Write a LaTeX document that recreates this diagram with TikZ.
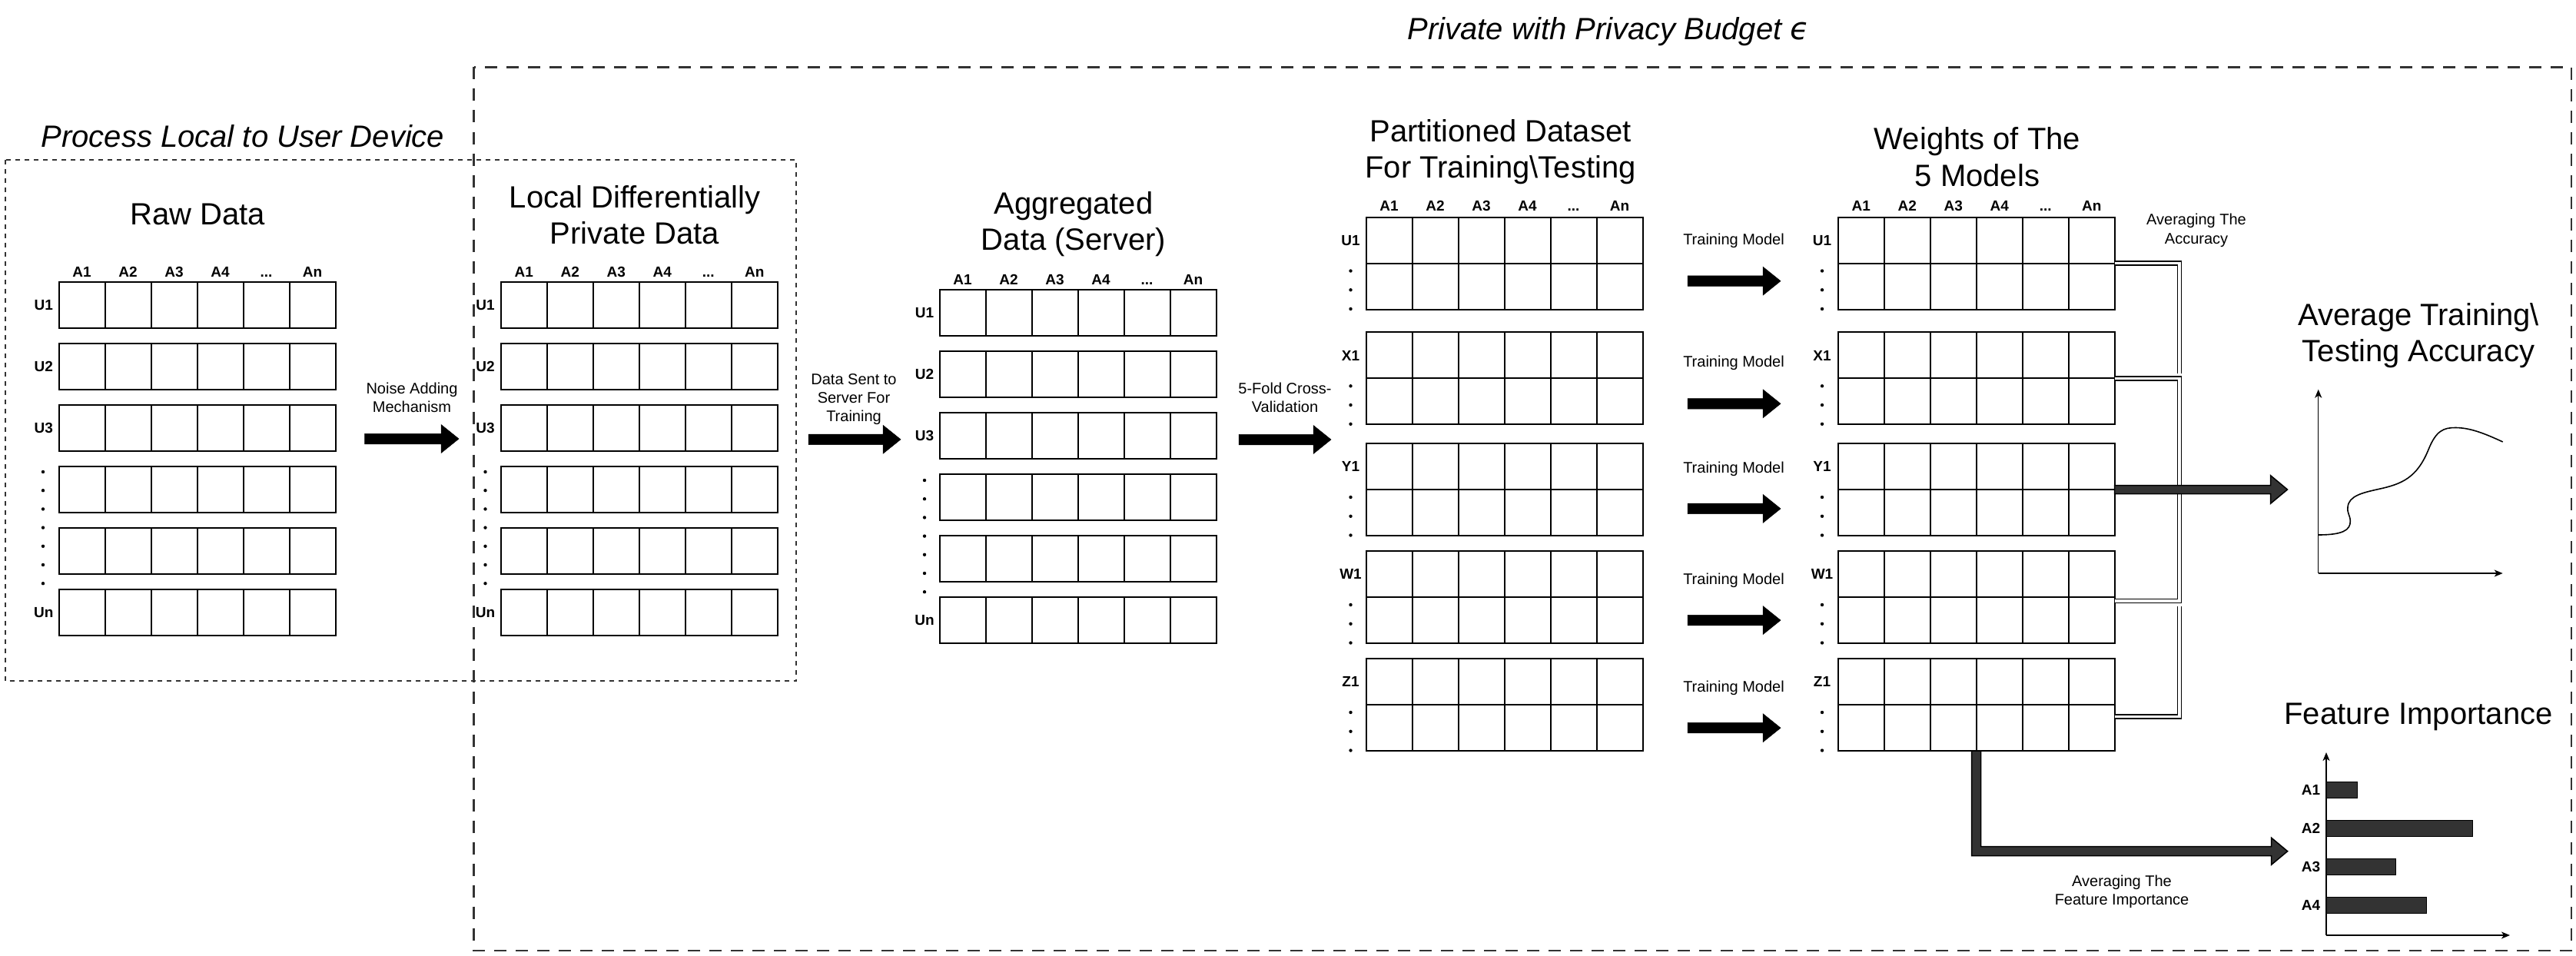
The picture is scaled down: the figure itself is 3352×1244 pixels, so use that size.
\documentclass[tikz,border=0pt]{standalone}
\usepackage{fontspec}
\setmainfont{Liberation Sans}
\newfontfamily\epsfont{DejaVu Sans}
\usetikzlibrary{arrows.meta,calc}
\definecolor{darkfill}{HTML}{333333}

\tikzset{
  tbl/.style={draw=black, line width=2pt, minimum width=360pt, inner sep=0pt, outer sep=0pt},
  tline/.style={draw=black, line width=2pt},
  hdr/.style={font=\bfseries\fontsize{19}{22}\selectfont, anchor=base, inner sep=0pt},
  ttl/.style={font=\fontsize{40}{47}\selectfont, anchor=base, inner sep=0pt},
  ittl/.style={font=\itshape\fontsize{40}{47}\selectfont, anchor=base, inner sep=0pt},
  lbl/.style={font=\fontsize{20}{24}\selectfont, anchor=base, inner sep=0pt},
  dline/.style={draw=black, line width=1.7pt, double=white, double distance=3.2pt, line join=miter},
  blackarrow/.style={fill=black, draw=black, line width=0.5pt},
  darkarrow/.style={fill=darkfill, draw=black, line width=1.5pt, line join=miter},
  axisline/.style={line width=1.5pt, -{Stealth[length=11pt,width=9pt,inset=3pt]}},
  barbox/.style={fill=darkfill, draw=black, line width=1pt},
  dotmark/.style={fill=black},
  innerbox/.style={draw=black!80, line width=2pt, dash pattern=on 6pt off 6pt},
  outerbox/.style={draw=black!80, line width=2.5pt, dash pattern=on 16pt off 12pt},
}

\newcommand{\onerow}[3]{%
  \node[tbl, minimum height=60pt, anchor=north west] (#1) at (#2,#3) {};
  \foreach \k in {1,...,5}{\draw[tline] ($(#1.north west)+(60*\k,0)$) -- ($(#1.south west)+(60*\k,0)$);}
}
\newcommand{\tworow}[3]{%
  \node[tbl, minimum height=120pt, anchor=north west] (#1) at (#2,#3) {};
  \foreach \k in {1,...,5}{\draw[tline] ($(#1.north west)+(60*\k,0)$) -- ($(#1.south west)+(60*\k,0)$);}
  \draw[tline] (#1.west) -- (#1.east);
}
\newcommand{\heads}[3]{%
  \node[hdr] (#1h1) at (#2+30,#3) {A1};
  \node[hdr] (#1h2) at (#2+90,#3) {A2};
  \node[hdr] (#1h3) at (#2+150,#3) {A3};
  \node[hdr] (#1h4) at (#2+210,#3) {A4};
  \node[hdr] (#1h5) at (#2+270,#3) {...};
  \node[hdr] (#1h6) at (#2+330,#3) {An};
}
\newcommand{\dotcol}[4]{\foreach \k in {0,...,#4}{\fill[dotmark] (#1,#2+#3*\k) circle (2.2);}}
\newcommand{\fatarr}[6]{%
  \filldraw[#1] ($(#2)+(0,-#4)$) -- ($(#3)+(-#5,-#4)$) -- ($(#3)+(-#5,-#6)$) -- (#3)
    -- ($(#3)+(-#5,#6)$) -- ($(#3)+(-#5,#4)$) -- ($(#2)+(0,#4)$) -- cycle;
}

\begin{document}
\begin{tikzpicture}[x=1pt,y=-1pt]
\useasboundingbox[fill=white] (0,0) rectangle (3352,1244);

% dashed regions
\draw[outerbox] (616.5,87.5) rectangle (3346,1237);
\draw[innerbox] (7,207.5) rectangle (1036,886);

% titles
\node[ittl] (tlocal) at (316,191) {Process Local to User Device};
\node[ittl] (tpriv) at (2093,52) {Private with Privacy Budget {\epsfont\itshape ϵ}};
\node[ttl] (traw) at (257,292.7) {Raw Data};
\node[ttl] (tldp1) at (826,270) {Local Differentially};
\node[ttl] (tldp2) at (826,317) {Private Data};
\node[ttl] (tagg1) at (1397,278.6) {Aggregated};
\node[ttl] (tagg2) at (1397,325.5) {Data (Server)};
\node[ttl] (tpar1) at (1952.5,184.5) {Partitioned Dataset};
\node[ttl] (tpar2) at (1952.5,231.6) {For Training\textbackslash Testing};
\node[ttl] (twt1) at (2573,194) {Weights of The};
\node[ttl] (twt2) at (2573,242) {5 Models};
\node[ttl] (tavg1) at (3147,423.5) {Average Training\textbackslash};
\node[ttl] (tavg2) at (3147,470.6) {Testing Accuracy};
\node[ttl] (tfi) at (3147,942) {Feature Importance};

% raw data table
\heads{raw}{76.5}{360.6}
\onerow{raw1}{76.5}{367}
\onerow{raw2}{76.5}{447}
\onerow{raw3}{76.5}{527}
\onerow{raw4}{76.5}{607}
\onerow{raw5}{76.5}{687}
\onerow{raw6}{76.5}{767}
\node[hdr] (rawl1) at (56.8,403.8) {U1};
\node[hdr] (rawl2) at (56.8,483.8) {U2};
\node[hdr] (rawl3) at (56.8,563.8) {U3};
\node[hdr] (rawl6) at (56.8,803.8) {Un};
\dotcol{56}{614}{24.2}{6}

% local differentially private table
\heads{ldp}{651.7}{360.6}
\onerow{ldp1}{651.7}{367}
\onerow{ldp2}{651.7}{447}
\onerow{ldp3}{651.7}{527}
\onerow{ldp4}{651.7}{607}
\onerow{ldp5}{651.7}{687}
\onerow{ldp6}{651.7}{767}
\node[hdr] (ldpl1) at (631.5,403.8) {U1};
\node[hdr] (ldpl2) at (631.5,483.8) {U2};
\node[hdr] (ldpl3) at (631.5,563.8) {U3};
\node[hdr] (ldpl6) at (631.5,803.8) {Un};
\dotcol{631.5}{614}{24.2}{6}

% aggregated table
\heads{agg}{1222.5}{370.6}
\onerow{agg1}{1222.5}{377}
\onerow{agg2}{1222.5}{457}
\onerow{agg3}{1222.5}{537}
\onerow{agg4}{1222.5}{617}
\onerow{agg5}{1222.5}{697}
\onerow{agg6}{1222.5}{777}
\node[hdr] (aggl1) at (1203,413.8) {U1};
\node[hdr] (aggl2) at (1203,493.8) {U2};
\node[hdr] (aggl3) at (1203,573.8) {U3};
\node[hdr] (aggl6) at (1203,813.8) {Un};
\dotcol{1203}{625}{24.2}{6}

% partitioned dataset
\heads{par}{1777.5}{274.8}
\tworow{p1}{1777.5}{282.5}
\tworow{p2}{1777.5}{432.3}
\tworow{p3}{1777.5}{577}
\tworow{p4}{1777.5}{717}
\tworow{p5}{1777.5}{857}
\node[hdr] (parl1) at (1757.5,319.3) {U1};
\node[hdr] (parl2) at (1757.5,469.1) {X1};
\node[hdr] (parl3) at (1757.5,613.8) {Y1};
\node[hdr] (parl4) at (1757.5,753.8) {W1};
\node[hdr] (parl5) at (1757.5,893.8) {Z1};
\dotcol{1757.5}{352.5}{24.75}{2}
\dotcol{1757.5}{502.3}{24.75}{2}
\dotcol{1757.5}{647}{24.75}{2}
\dotcol{1757.5}{787}{24.75}{2}
\dotcol{1757.5}{927}{24.75}{2}

% weights of the 5 models
\heads{wt}{2391.7}{274.8}
\tworow{w1}{2391.7}{282.5}
\tworow{w2}{2391.7}{432.3}
\tworow{w3}{2391.7}{577}
\tworow{w4}{2391.7}{717}
\tworow{w5}{2391.7}{857}
\node[hdr] (wtl1) at (2371,319.3) {U1};
\node[hdr] (wtl2) at (2371,469.1) {X1};
\node[hdr] (wtl3) at (2371,613.8) {Y1};
\node[hdr] (wtl4) at (2371,753.8) {W1};
\node[hdr] (wtl5) at (2371,893.8) {Z1};
\dotcol{2371}{352.5}{24.75}{2}
\dotcol{2371}{502.3}{24.75}{2}
\dotcol{2371}{647}{24.75}{2}
\dotcol{2371}{787}{24.75}{2}
\dotcol{2371}{927}{24.75}{2}

% black process arrows and their labels
\coordinate (na) at (474.6,571); \coordinate (nb) at (597,571);
\fatarr{blackarrow}{na}{nb}{6.75}{23}{18.5}
\node[lbl] (ln1) at (536,512) {Noise Adding};
\node[lbl] (ln2) at (536,536) {Mechanism};

\coordinate (da) at (1052,571.8); \coordinate (db) at (1172,571.8);
\fatarr{blackarrow}{da}{db}{6.75}{23}{18.5}
\node[lbl] (ld1) at (1111,500) {Data Sent to};
\node[lbl] (ld2) at (1111,524) {Server For};
\node[lbl] (ld3) at (1111,548) {Training};

\coordinate (fa) at (1612,572); \coordinate (fb) at (1732,572);
\fatarr{blackarrow}{fa}{fb}{6.75}{23}{18.5}
\node[lbl] (lf1) at (1672,512) {5-Fold Cross-};
\node[lbl] (lf2) at (1672,536) {Validation};

\foreach \i/\y/\b in {1/365.7/318, 2/525.3/477.7, 3/661.9/615, 4/807.1/760, 5/947.2/900}{
  \coordinate (ta\i) at (2196,\y); \coordinate (tb\i) at (2317,\y);
  \fatarr{blackarrow}{ta\i}{tb\i}{6.75}{23}{18.5}
  \node[lbl] (lt\i) at (2256,\b) {Training Model};
}

% averaging connectors (double lines)
\draw[dline] (w1.east) -| (2836,486);
\draw[dline] (w2.east) -- ++(84.3,0) |- ($(w4.east)+(0,5)$);
\draw[dline] ($(w5.east)+(0,15.5)$) -| (2836,789);
\node[lbl] (la1) at (2858,292.6) {Averaging The};
\node[lbl] (la2) at (2858,317) {Accuracy};

% accuracy arrow
\coordinate (as) at (w3.east); \coordinate (at) at (2976.5,637);
\fatarr{darkarrow}{as}{at}{5.5}{22}{18.3}

% feature importance arrow
\coordinate (fs) at (w5.south);
\coordinate (ft) at (2976.6,1107.7);
\coordinate (fc) at (fs |- ft);
\filldraw[darkarrow] ($(fs)+(-6,0)$) -- ($(fc)+(-6,6)$) -- ($(ft)+(-21,6)$) -- ($(ft)+(-21,17.5)$) -- (ft)
  -- ($(ft)+(-21,-17.5)$) -- ($(ft)+(-21,-6)$) -- ($(fc)+(6,-6)$) -- ($(fs)+(6,0)$) -- cycle;
\node[lbl] (lfi1) at (2761,1153.7) {Averaging The};
\node[lbl] (lfi2) at (2761,1177) {Feature Importance};

% accuracy chart
\coordinate (ao) at (3016.7,746);
\draw[axisline] (ao) -- (3016.7,506.7);
\draw[axisline] (ao) -- (3256.7,746);
\draw[line width=1.6pt] (3016.7,696) .. controls (3048,696) and (3058.5,690) .. (3058.3,678)
  .. controls (3058,670) and (3054,668) .. (3055,660)
  .. controls (3056,645) and (3075,641) .. (3095,636.5)
  .. controls (3125,630) and (3145,622) .. (3160,585)
  .. controls (3170,560) and (3180,556.5) .. (3195,556.5)
  .. controls (3215,556.5) and (3235,565) .. (3256.7,575);

% feature importance bar chart
\coordinate (bo) at (3027,1217);
\draw[barbox] (3027,1017) rectangle (3067,1038);
\draw[barbox] (3027,1067) rectangle (3217,1088);
\draw[barbox] (3027,1117) rectangle (3117,1138);
\draw[barbox] (3027,1167) rectangle (3157,1188);
\draw[axisline] (bo) -- (3027,979);
\draw[axisline] (bo) -- (3266,1217);
\node[hdr] (fil1) at (3007,1034) {A1};
\node[hdr] (fil2) at (3007,1084) {A2};
\node[hdr] (fil3) at (3007,1134) {A3};
\node[hdr] (fil4) at (3007,1184) {A4};
\end{tikzpicture}
\end{document}
